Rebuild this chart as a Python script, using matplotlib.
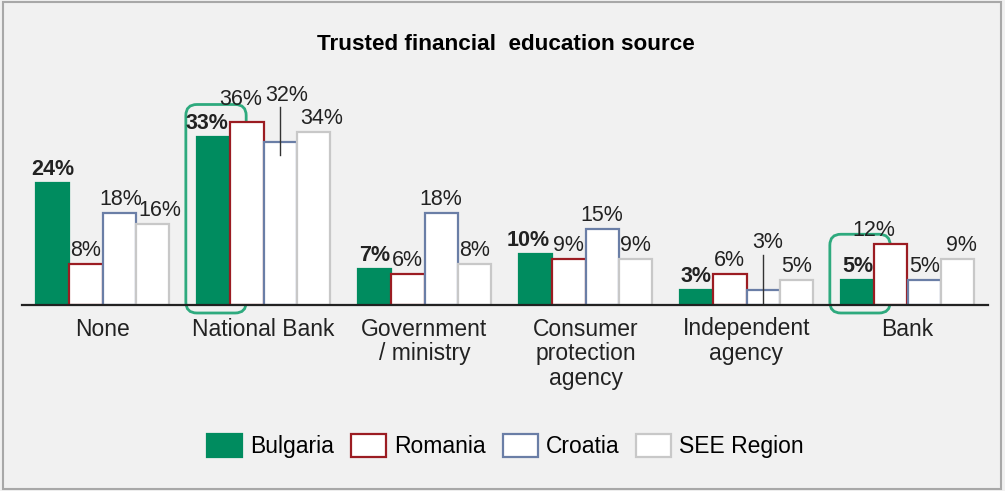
import numpy as np
import matplotlib.pyplot as plt
from matplotlib.patches import FancyBboxPatch, Rectangle

plt.rcParams['font.family'] = ['Liberation Sans', 'DejaVu Sans']

categories = ['None', 'National Bank', 'Government\n/ ministry',
              'Consumer\nprotection\nagency', 'Independent\nagency', 'Bank']
series = ['Bulgaria', 'Romania', 'Croatia', 'SEE Region']
bulgaria = [24, 33, 7, 10, 3, 5]
romania = [8, 36, 6, 9, 6, 12]
croatia = [18, 32, 18, 15, 3, 5]
see_region = [16, 34, 8, 9, 5, 9]
values = [bulgaria, romania, croatia, see_region]

green = '#008c5f'
faces = [green, 'white', 'white', 'white']
edges = [green, '#9b1c22', '#6a7ea6', '#c8c8c8']

PX = 0.72  # points per pixel at dpi 100
# label nudges in pixels (dx, dy) for crowded spots
nudge = {(1, 1): (-6, 9), (5, 1): (-17, 0), (1, 0): (-7, 0),
         (0, 3): (7, 0), (3, 0): (-7, 0), (1, 3): (8, 0), (5, 3): (4, 0),
         (0, 2): (2, 0)}
# labels lifted off the bar with a leader line: (label dx, label centre above bar top) px
leader = {(1, 2): (7, 47), (4, 2): (5, 47)}

fig = plt.figure(figsize=(10.05, 4.91), dpi=100)
fig.patch.set_facecolor('#f1f1f1')
fig.patches.append(Rectangle((3 / 1005, 2 / 491), 998 / 1005, 487 / 491,
                             transform=fig.transFigure, fill=False,
                             edgecolor='#a8a8a8', lw=1.5))

ax = fig.add_axes([22 / 1005, 186 / 491, 966 / 1005, 229 / 491])
ax.set_facecolor('none')
ax.set_xlim(-0.5, 5.5)
ax.set_ylim(0, 45)
px_x = 6.0 / 966   # data x per pixel
px_y = 45.0 / 229  # data y per pixel

w = 0.207
x = np.arange(len(categories))
for j, name in enumerate(series):
    pos = x + (j - 1.5) * w
    ax.bar(pos, values[j], width=w, color=faces[j], edgecolor=edges[j],
           linewidth=1.6, label=name, zorder=2)
    for i, v in enumerate(values[j]):
        weight = 'bold' if j == 0 else 'normal'
        if (i, j) in leader:
            dx, lift = leader[(i, j)]
            ax.annotate(f'{v}%', (pos[i], v), xytext=(dx * PX, lift * PX),
                        textcoords='offset points', ha='center', va='center',
                        fontsize=15.5, color='#222222')
            ax.plot([pos[i], pos[i]], [v - 13 * px_y, v + (lift - 12) * px_y],
                    color='#333333', lw=1, zorder=3)
        else:
            dx, dy = nudge.get((i, j), (0, 0))
            ax.annotate(f'{v}%', (pos[i], v), xytext=(dx * PX, (3 + dy) * PX),
                        textcoords='offset points', ha='center', va='bottom',
                        fontsize=15.5, fontweight=weight, color='#222222')

# green rounded frames around highlighted Bulgaria bars, sitting behind the bars
frame_top = {1: 39.4, 5: 13.9}
for i, top in frame_top.items():
    left = x[i] - 2 * w - 11 * px_x
    right = x[i] - w + 16 * px_x
    bottom = -8 * px_y
    box = FancyBboxPatch((left, bottom), right - left, top - bottom,
                         boxstyle=f'round,pad=0,rounding_size={11 * px_x}',
                         mutation_aspect=px_y / px_x,
                         fill=False, edgecolor='#2eaa7e', lw=2, zorder=1.5,
                         clip_on=False)
    ax.add_patch(box)

for s in ['top', 'right', 'left']:
    ax.spines[s].set_visible(False)
ax.spines['bottom'].set_linewidth(1.6)
ax.spines['bottom'].set_color('#222222')
ax.spines['bottom'].set_zorder(3)
ax.set_yticks([])
ax.set_xticks(x)
ax.set_xticklabels(categories, fontsize=16.5, color='#222222', linespacing=1.1)
ax.tick_params(axis='x', length=0, pad=9)

fig.text(0.503, 0.91, 'Trusted financial  education source', ha='center',
         va='center', fontsize=16.2, fontweight='bold',
         family=['Liberation Sans Narrow', 'Liberation Sans', 'DejaVu Sans'])

fig.legend(loc='center', bbox_to_anchor=(0.503, 1 - 446 / 491), ncol=4,
           frameon=False, fontsize=16.5, handlelength=1.53, handleheight=1.18,
           handletextpad=0.35, columnspacing=0.74)

fig.savefig('out.png', dpi=100, facecolor=fig.get_facecolor())
